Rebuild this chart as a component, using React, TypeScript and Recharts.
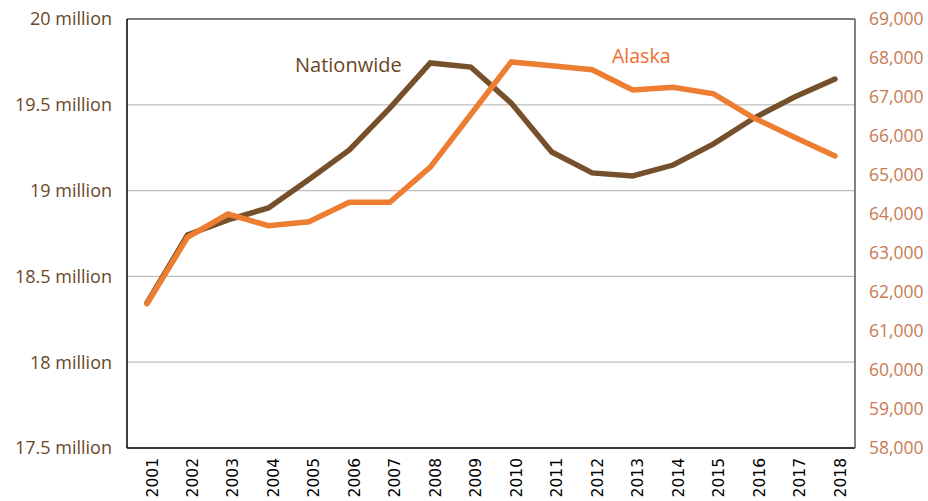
import React from 'react';
import { LineChart, Line, XAxis, YAxis, CartesianGrid, ReferenceLine } from 'recharts';

const years = ['2001', '2002', '2003', '2004', '2005', '2006', '2007', '2008', '2009', '2010', '2011', '2012', '2013', '2014', '2015', '2016', '2017', '2018'];
const nationwide = [18345000, 18741000, 18829000, 18899000, 19065000, 19237000, 19481000, 19744000, 19720000, 19510000, 19225000, 19103000, 19085000, 19149000, 19272000, 19423000, 19545000, 19650000];
const alaska = [61700, 63400, 64000, 63700, 63800, 64300, 64300, 65200, 66550, 67900, 67800, 67700, 67180, 67250, 67080, 66460, 65970, 65490];
const leftTicks = [17500000, 18000000, 18500000, 19000000, 19500000, 20000000];
const rightTicks = [58000, 59000, 60000, 61000, 62000, 63000, 64000, 65000, 66000, 67000, 68000, 69000];

const BROWN = '#76502A';
const ORANGE = '#ED7D31';

const data = years.map((year, i) => ({ year, nationwide: nationwide[i], alaska: alaska[i] }));

// rotated year labels, reading bottom to top
const YearTick = (props: any) => {
    const { x, y, payload } = props;
    return (
        <text
            transform={`translate(${x + 10.5},${y + 2}) rotate(-90)`}
            textAnchor="end"
            fontSize={15.5}
            fontFamily="DejaVu Sans"
            fill="#000"
        >
            {payload.value}
        </text>
    );
};

export default function App() {
    return (
        <div style={{ position: 'absolute', left: 0, top: 0, width: 928, height: 501, fontFamily: '"Open Sans"', background: '#fff' }}>
            <LineChart width={928} height={501} data={data} margin={{ top: 19, right: 0, bottom: 0, left: 0 }}>
                <CartesianGrid yAxisId="left" vertical={false} stroke="#BFBFBF" strokeWidth={1.2} />
                <XAxis
                    dataKey="year"
                    interval={0}
                    height={53}
                    tickLine={false}
                    axisLine={{ stroke: '#000', strokeWidth: 1.5 }}
                    padding={{ left: 20, right: 20 }}
                    tick={<YearTick />}
                />
                <YAxis
                    yAxisId="left"
                    width={127}
                    domain={[17500000, 20000000]}
                    ticks={leftTicks}
                    tickFormatter={(v: number) => `${v / 1000000} million`}
                    tickLine={false}
                    tickSize={0}
                    tickMargin={15}
                    axisLine={{ stroke: '#000', strokeWidth: 1.5 }}
                    tick={{ fill: '#6A4828', fontSize: 18 }}
                />
                <YAxis
                    yAxisId="right"
                    orientation="right"
                    width={73}
                    domain={[58000, 69000]}
                    ticks={rightTicks}
                    tickFormatter={(v: number) => v.toLocaleString('en-US')}
                    tickLine={false}
                    tickSize={0}
                    tickMargin={14}
                    axisLine={{ stroke: '#595959', strokeWidth: 1.5 }}
                    tick={{ fill: '#C97A52', fontSize: 17.5 }}
                />
                <ReferenceLine yAxisId="left" y={20000000} stroke="#595959" strokeWidth={1.5} />
                <Line
                    yAxisId="left"
                    dataKey="nationwide"
                    stroke={BROWN}
                    strokeWidth={5.5}
                    strokeLinecap="round"
                    dot={false}
                    isAnimationActive={false}
                />
                <Line
                    yAxisId="right"
                    dataKey="alaska"
                    stroke={ORANGE}
                    strokeWidth={5.5}
                    strokeLinecap="round"
                    dot={false}
                    isAnimationActive={false}
                />
            </LineChart>
            <div style={{ position: 'absolute', left: 295, top: 51, fontSize: 20, color: '#6B4423', lineHeight: '28px' }}>Nationwide</div>
            <div style={{ position: 'absolute', left: 612, top: 42, fontSize: 19.5, color: '#F26B30', lineHeight: '28px' }}>Alaska</div>
        </div>
    );
}
